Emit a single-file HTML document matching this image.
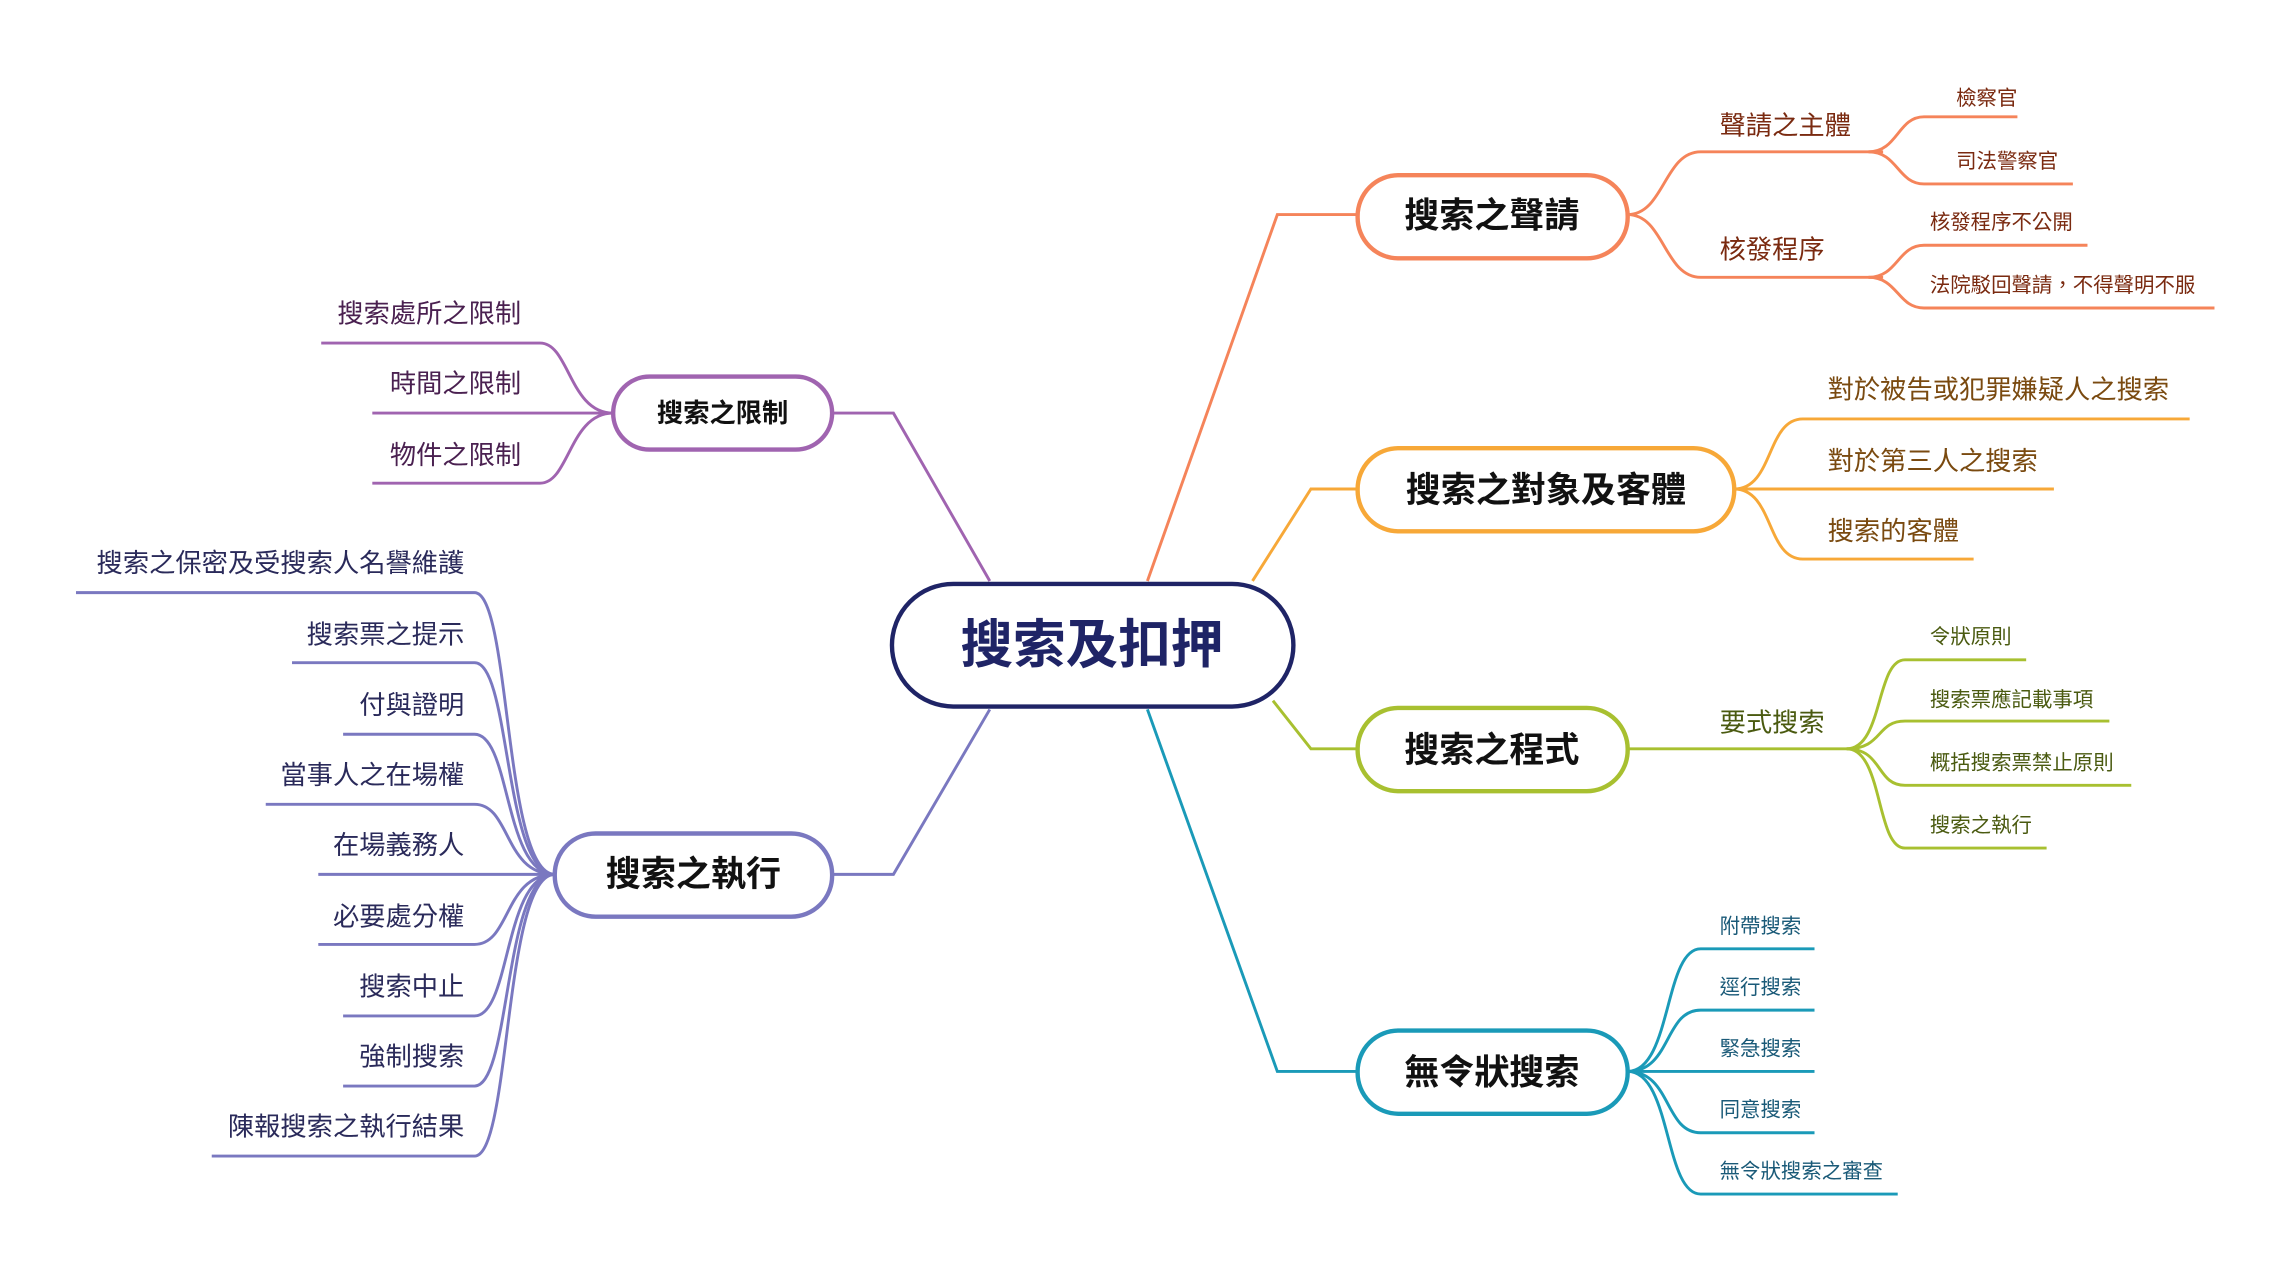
<!DOCTYPE html>
<html><head><meta charset="utf-8"><style>
html,body{margin:0;padding:0;background:#fff;}
svg{display:block;}
text{font-family:"Liberation Sans","Noto Sans CJK TC",sans-serif;}
</style></head><body>
<svg width="2289" height="1272" viewBox="0 0 1568 871.4" xmlns="http://www.w3.org/2000/svg">
<g fill="none" stroke-width="2">
<path d="M786,398 L875,147 H930" stroke="#f5845a"/>
<path d="M858,398 L898,335 H930" stroke="#f7a838"/>
<path d="M872,480 L898,513 H930" stroke="#a8c030"/>
<path d="M786,486 L875,734 H930" stroke="#1a9ab8"/>
<path d="M678,398 L612,283 H570" stroke="#a064b0"/>
<path d="M678,486 L612,599 H570" stroke="#7a78c0"/>
<g stroke="#f5845a">
<path d="M1115,147 C1140,147 1140,104 1165,104 H1290"/>
<path d="M1115,147 C1140,147 1140,190 1165,190 H1290"/>
<path d="M1280,104 C1300,104 1300,80 1318,80 H1382"/>
<path d="M1280,104 C1300,104 1300,126 1318,126 H1420"/>
<path d="M1280,190 C1300,190 1300,168 1318,168 H1430"/>
<path d="M1280,190 C1300,190 1300,211 1318,211 H1517"/>
</g>
<g stroke="#f7a838">
<path d="M1188,335 C1215,335 1210,287 1235,287 H1500"/>
<path d="M1188,335 H1407"/>
<path d="M1188,335 C1215,335 1210,383 1235,383 H1352"/>
</g>
<g stroke="#a8c030">
<path d="M1115,513 H1265"/>
<path d="M1265,513 C1290,513 1285,452 1305,452 H1388"/>
<path d="M1265,513 C1290,513 1285,494 1305,494 H1445"/>
<path d="M1265,513 C1290,513 1285,538 1305,538 H1460"/>
<path d="M1265,513 C1290,513 1285,581 1305,581 H1402"/>
</g>
<g stroke="#1a9ab8">
<path d="M1115,734 C1145,734 1140,650 1165,650 H1243"/>
<path d="M1115,734 C1145,734 1140,692 1165,692 H1243"/>
<path d="M1115,734 C1145,734 1140,734 1165,734 H1243"/>
<path d="M1115,734 C1145,734 1140,776 1165,776 H1243"/>
<path d="M1115,734 C1145,734 1140,818 1165,818 H1300"/>
</g>
<g stroke="#a064b0">
<path d="M420,283 C390,283 390,235 370,235 H220"/>
<path d="M420,283 H255"/>
<path d="M420,283 C390,283 390,331 370,331 H255"/>
</g>
<g stroke="#7a78c0">
<path d="M380,599 C345,599 350,406 325,406 H52"/>
<path d="M380,599 C345,599 350,454 325,454 H200"/>
<path d="M380,599 C345,599 350,503 325,503 H235"/>
<path d="M380,599 C345,599 350,551 325,551 H182"/>
<path d="M380,599 H218"/>
<path d="M380,599 C345,599 350,647 325,647 H218"/>
<path d="M380,599 C345,599 350,696 325,696 H235"/>
<path d="M380,599 C345,599 350,744 325,744 H235"/>
<path d="M380,599 C345,599 350,792 325,792 H145"/>
</g>
</g>
<g fill="#fff" stroke-width="3">
<rect x="611" y="400" width="275" height="84" rx="42" stroke="#1f2466"/>
<rect x="930" y="120" width="185" height="57" rx="28" stroke="#f5845a"/>
<rect x="930" y="307" width="258" height="57" rx="28" stroke="#f7a838"/>
<rect x="930" y="485" width="185" height="57" rx="28" stroke="#a8c030"/>
<rect x="930" y="706" width="185" height="57" rx="28" stroke="#1a9ab8"/>
<rect x="420" y="258" width="150" height="50" rx="25" stroke="#a064b0"/>
<rect x="380" y="571" width="190" height="57" rx="28" stroke="#7a78c0"/>
</g>
<g font-weight="bold" text-anchor="middle">
<text x="748" y="454" font-size="36" fill="#1f2466">搜索及扣押</text>
<text x="1022" y="156" font-size="24" fill="#111">搜索之聲請</text>
<text x="1059" y="344" font-size="24" fill="#111">搜索之對象及客體</text>
<text x="1022" y="522" font-size="24" fill="#111">搜索之程式</text>
<text x="1022" y="743" font-size="24" fill="#111">無令狀搜索</text>
<text x="495" y="289" font-size="18" fill="#111">搜索之限制</text>
<text x="475" y="607" font-size="24" fill="#111">搜索之執行</text>
</g>
<g fill="#7a2a10">
<text x="1178" y="92" font-size="18">聲請之主體</text>
<text x="1178" y="177" font-size="18">核發程序</text>
<text x="1340" y="72" font-size="14">檢察官</text>
<text x="1340" y="115" font-size="14">司法警察官</text>
<text x="1322" y="157" font-size="14">核發程序不公開</text>
<text x="1322" y="200" font-size="14">法院駁回聲請，不得聲明不服</text>
</g>
<g fill="#7a4a10" font-size="18">
<text x="1252" y="273">對於被告或犯罪嫌疑人之搜索</text>
<text x="1252" y="322">對於第三人之搜索</text>
<text x="1252" y="370">搜索的客體</text>
</g>
<g fill="#4a5a10">
<text x="1178" y="501" font-size="18">要式搜索</text>
<text x="1322" y="441" font-size="14">令狀原則</text>
<text x="1322" y="484" font-size="14">搜索票應記載事項</text>
<text x="1322" y="527" font-size="14">概括搜索票禁止原則</text>
<text x="1322" y="570" font-size="14">搜索之執行</text>
</g>
<g fill="#1a5a78" font-size="14">
<text x="1178" y="639">附帶搜索</text>
<text x="1178" y="681">逕行搜索</text>
<text x="1178" y="723">緊急搜索</text>
<text x="1178" y="765">同意搜索</text>
<text x="1178" y="807">無令狀搜索之審查</text>
</g>
<g fill="#4a2050" font-size="18" text-anchor="end">
<text x="357" y="221">搜索處所之限制</text>
<text x="357" y="269">時間之限制</text>
<text x="357" y="318">物件之限制</text>
</g>
<g fill="#2a2a5a" font-size="18" text-anchor="end">
<text x="318" y="392">搜索之保密及受搜索人名譽維護</text>
<text x="318" y="441">搜索票之提示</text>
<text x="318" y="489">付與證明</text>
<text x="318" y="537">當事人之在場權</text>
<text x="318" y="585">在場義務人</text>
<text x="318" y="634">必要處分權</text>
<text x="318" y="682">搜索中止</text>
<text x="318" y="730">強制搜索</text>
<text x="318" y="778">陳報搜索之執行結果</text>
</g>
</svg>
</body></html>
